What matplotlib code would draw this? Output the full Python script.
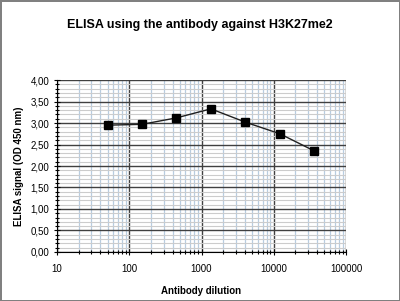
import matplotlib
matplotlib.use("Agg")
import matplotlib.pyplot as plt
from matplotlib.ticker import LogLocator, MultipleLocator, FixedLocator
import numpy as np

plt.rcParams['font.family'] = ['Liberation Sans', 'DejaVu Sans']

dilution = [50, 150, 450, 1350, 4050, 12150, 36450]
signal = [2.95, 2.97, 3.12, 3.33, 3.02, 2.75, 2.35]
x_ticks = [10, 100, 1000, 10000, 100000]
x_labels = ["10", "100", "1000", "10000", "100000"]
y_ticks = [0.0, 0.5, 1.0, 1.5, 2.0, 2.5, 3.0, 3.5, 4.0]
y_labels = ["0,00", "0,50", "1,00", "1,50", "2,00", "2,50", "3,00", "3,50", "4,00"]

fig = plt.figure(figsize=(4.0, 3.01), dpi=100)
fig.patch.set_edgecolor('#808080')
fig.patch.set_linewidth(2)
ax = fig.add_axes([0.1425, 0.163, 0.7225, 0.571])

ax.set_xscale('log')
ax.set_xlim(10, 100000)
ax.set_ylim(0, 4)

ax.xaxis.set_major_locator(FixedLocator(x_ticks))
ax.set_xticklabels(x_labels)
ax.xaxis.set_minor_locator(LogLocator(base=10, subs=np.arange(2, 10)))
ax.xaxis.set_minor_formatter(plt.NullFormatter())
ax.yaxis.set_major_locator(FixedLocator(y_ticks))
ax.set_yticklabels(y_labels)
ax.yaxis.set_minor_locator(MultipleLocator(0.1))

ax.grid(which='minor', axis='x', color='#b8cde0', linewidth=0.9)
ax.grid(which='minor', axis='y', color='#cccccc', linewidth=0.8)
ax.grid(which='major', axis='x', color='#404040', linewidth=1.0)
ax.grid(which='major', axis='y', color='#404040', linewidth=1.0)
ax.set_axisbelow(True)

for s in ['top', 'right']:
    ax.spines[s].set_visible(False)
ax.spines['left'].set_linewidth(0.8)
ax.spines['bottom'].set_linewidth(0.8)

ax.tick_params(which='major', direction='inout', length=4, labelsize=7, width=0.8)
ax.tick_params(which='minor', direction='inout', length=3, width=0.8)
ax.tick_params(axis='x', which='major', pad=7)

ax.plot(dilution, signal, color='#202020', linewidth=1.0, marker='s',
        markersize=5.5, markerfacecolor='black', markeredgecolor='black')

ax.set_xlabel("Antibody dilution", fontsize=7, fontweight='bold', labelpad=8)
ax.set_ylabel("ELISA signal (OD 450 nm)", fontsize=7, fontweight='bold', labelpad=5)
fig.text(0.5, 0.918, "ELISA using the antibody against H3K27me2", ha='center',
         va='center', fontsize=9, fontweight='bold')

fig.savefig("out.png", dpi=100, edgecolor=fig.get_edgecolor())
